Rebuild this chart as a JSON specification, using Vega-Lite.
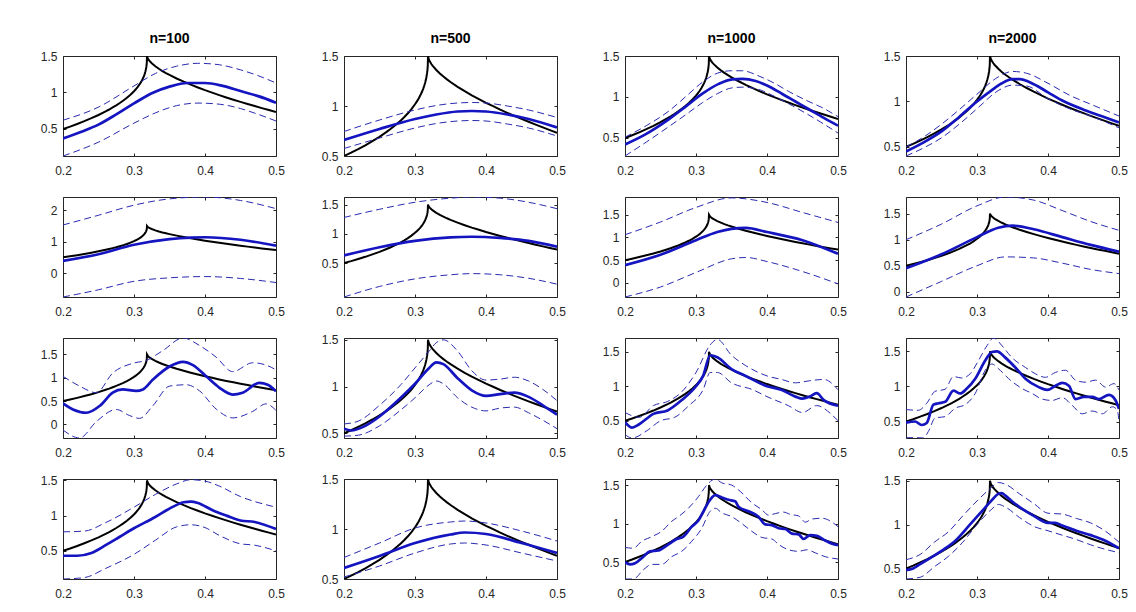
{
  "$schema": "https://vega.github.io/schema/vega-lite/v6.json",
  "padding": {"left": 40, "top": 32, "right": 5, "bottom": 5},
  "bounds": "flush",
  "columns": 4,
  "spacing": {"row": 41, "column": 68},
  "datasets": {
    "truth": [
      {"x":0.2,"y":0.5},{"x":0.21,"y":0.533},{"x":0.22,"y":0.569},{"x":0.23,"y":0.607},{"x":0.24,"y":0.648},{"x":0.25,"y":0.692},{"x":0.26,"y":0.741},{"x":0.265,"y":0.767},{"x":0.27,"y":0.795},{"x":0.275,"y":0.824},{"x":0.28,"y":0.856},{"x":0.285,"y":0.89},{"x":0.29,"y":0.927},{"x":0.295,"y":0.969},{"x":0.3,"y":1.017},{"x":0.3025,"y":1.044},{"x":0.305,"y":1.073},{"x":0.3075,"y":1.107},{"x":0.31,"y":1.145},{"x":0.3115,"y":1.172},{"x":0.313,"y":1.202},{"x":0.3145,"y":1.238},{"x":0.316,"y":1.285},{"x":0.317,"y":1.328},{"x":0.3175,"y":1.357},{"x":0.318,"y":1.403},{"x":0.3183,"y":1.5},{"x":0.3195,"y":1.466},{"x":0.321,"y":1.444},{"x":0.323,"y":1.42},{"x":0.325,"y":1.401},{"x":0.33,"y":1.36},{"x":0.335,"y":1.325},{"x":0.34,"y":1.294},{"x":0.345,"y":1.266},{"x":0.35,"y":1.24},{"x":0.36,"y":1.192},{"x":0.37,"y":1.148},{"x":0.38,"y":1.107},{"x":0.39,"y":1.069},{"x":0.4,"y":1.032},{"x":0.41,"y":0.998},{"x":0.42,"y":0.964},{"x":0.43,"y":0.932},{"x":0.44,"y":0.901},{"x":0.45,"y":0.871},{"x":0.46,"y":0.842},{"x":0.47,"y":0.814},{"x":0.48,"y":0.786},{"x":0.49,"y":0.759},{"x":0.5,"y":0.732}
    ],
    "est": [
      {"p":"11","x":0.2,"y":0.37},{"p":"11","x":0.225,"y":0.46},{"p":"11","x":0.25,"y":0.56},{"p":"11","x":0.275,"y":0.7},{"p":"11","x":0.3,"y":0.85},{"p":"11","x":0.325,"y":0.99},{"p":"11","x":0.35,"y":1.08},{"p":"11","x":0.375,"y":1.13},{"p":"11","x":0.4,"y":1.13},{"p":"11","x":0.425,"y":1.09},{"p":"11","x":0.45,"y":1.02},{"p":"11","x":0.475,"y":0.95},{"p":"11","x":0.5,"y":0.86},
      {"p":"12","x":0.2,"y":0.66},{"p":"12","x":0.25,"y":0.77},{"p":"12","x":0.3,"y":0.87},{"p":"12","x":0.33,"y":0.915},{"p":"12","x":0.36,"y":0.945},{"p":"12","x":0.38,"y":0.95},{"p":"12","x":0.4,"y":0.945},{"p":"12","x":0.43,"y":0.915},{"p":"12","x":0.46,"y":0.87},{"p":"12","x":0.5,"y":0.785},
      {"p":"13","x":0.2,"y":0.42},{"p":"13","x":0.23,"y":0.55},{"p":"13","x":0.262,"y":0.73},{"p":"13","x":0.285,"y":0.88},{"p":"13","x":0.309,"y":1.04},{"p":"13","x":0.332,"y":1.16},{"p":"13","x":0.351,"y":1.215},{"p":"13","x":0.365,"y":1.22},{"p":"13","x":0.384,"y":1.195},{"p":"13","x":0.4,"y":1.14},{"p":"13","x":0.421,"y":1.04},{"p":"13","x":0.44,"y":0.945},{"p":"13","x":0.459,"y":0.85},{"p":"13","x":0.48,"y":0.745},{"p":"13","x":0.5,"y":0.65},
      {"p":"14","x":0.2,"y":0.45},{"p":"14","x":0.225,"y":0.55},{"p":"14","x":0.25,"y":0.67},{"p":"14","x":0.275,"y":0.83},{"p":"14","x":0.3,"y":1.0},{"p":"14","x":0.32,"y":1.12},{"p":"14","x":0.335,"y":1.2},{"p":"14","x":0.35,"y":1.245},{"p":"14","x":0.36,"y":1.245},{"p":"14","x":0.38,"y":1.19},{"p":"14","x":0.4,"y":1.1},{"p":"14","x":0.42,"y":1.01},{"p":"14","x":0.45,"y":0.91},{"p":"14","x":0.475,"y":0.84},{"p":"14","x":0.5,"y":0.77},
      {"p":"21","x":0.2,"y":0.385},{"p":"21","x":0.25,"y":0.6},{"p":"21","x":0.3,"y":0.9},{"p":"21","x":0.35,"y":1.08},{"p":"21","x":0.38,"y":1.13},{"p":"21","x":0.4,"y":1.14},{"p":"21","x":0.45,"y":1.06},{"p":"21","x":0.5,"y":0.87},
      {"p":"22","x":0.2,"y":0.63},{"p":"22","x":0.25,"y":0.77},{"p":"22","x":0.3,"y":0.88},{"p":"22","x":0.35,"y":0.94},{"p":"22","x":0.38,"y":0.95},{"p":"22","x":0.42,"y":0.93},{"p":"22","x":0.46,"y":0.88},{"p":"22","x":0.5,"y":0.78},
      {"p":"23","x":0.2,"y":0.39},{"p":"23","x":0.25,"y":0.62},{"p":"23","x":0.3,"y":0.94},{"p":"23","x":0.33,"y":1.12},{"p":"23","x":0.35,"y":1.19},{"p":"23","x":0.37,"y":1.21},{"p":"23","x":0.4,"y":1.12},{"p":"23","x":0.45,"y":0.94},{"p":"23","x":0.5,"y":0.64},
      {"p":"24","x":0.2,"y":0.45},{"p":"24","x":0.25,"y":0.72},{"p":"24","x":0.3,"y":1.05},{"p":"24","x":0.33,"y":1.23},{"p":"24","x":0.35,"y":1.27},{"p":"24","x":0.38,"y":1.2},{"p":"24","x":0.42,"y":1.05},{"p":"24","x":0.46,"y":0.9},{"p":"24","x":0.5,"y":0.77},
      {"p":"31","x":0.2,"y":0.45},{"p":"31","x":0.214,"y":0.32},{"p":"31","x":0.233,"y":0.25},{"p":"31","x":0.252,"y":0.4},{"p":"31","x":0.27,"y":0.68},{"p":"31","x":0.284,"y":0.75},{"p":"31","x":0.303,"y":0.72},{"p":"31","x":0.3125,"y":0.75},{"p":"31","x":0.3266,"y":0.96},{"p":"31","x":0.35,"y":1.24},{"p":"31","x":0.369,"y":1.34},{"p":"31","x":0.383,"y":1.27},{"p":"31","x":0.4016,"y":1.03},{"p":"31","x":0.42,"y":0.79},{"p":"31","x":0.439,"y":0.64},{"p":"31","x":0.453,"y":0.68},{"p":"31","x":0.4766,"y":0.89},{"p":"31","x":0.4883,"y":0.85},{"p":"31","x":0.5,"y":0.71},
      {"p":"32","x":0.2,"y":0.55},{"p":"32","x":0.21,"y":0.53},{"p":"32","x":0.23,"y":0.58},{"p":"32","x":0.25,"y":0.68},{"p":"32","x":0.28,"y":0.88},{"p":"32","x":0.3,"y":1.03},{"p":"32","x":0.32,"y":1.2},{"p":"32","x":0.33,"y":1.26},{"p":"32","x":0.34,"y":1.24},{"p":"32","x":0.36,"y":1.09},{"p":"32","x":0.38,"y":0.96},{"p":"32","x":0.4,"y":0.9},{"p":"32","x":0.42,"y":0.92},{"p":"32","x":0.44,"y":0.935},{"p":"32","x":0.46,"y":0.89},{"p":"32","x":0.48,"y":0.8},{"p":"32","x":0.5,"y":0.7},
      {"p":"33","x":0.2,"y":0.48},{"p":"33","x":0.21,"y":0.4},{"p":"33","x":0.22,"y":0.45},{"p":"33","x":0.24,"y":0.6},{"p":"33","x":0.26,"y":0.65},{"p":"33","x":0.28,"y":0.8},{"p":"33","x":0.3,"y":1.0},{"p":"33","x":0.31,"y":1.15},{"p":"33","x":0.32,"y":1.45},{"p":"33","x":0.33,"y":1.42},{"p":"33","x":0.35,"y":1.25},{"p":"33","x":0.37,"y":1.15},{"p":"33","x":0.4,"y":1.0},{"p":"33","x":0.42,"y":0.95},{"p":"33","x":0.44,"y":0.85},{"p":"33","x":0.45,"y":0.82},{"p":"33","x":0.46,"y":0.85},{"p":"33","x":0.47,"y":0.9},{"p":"33","x":0.48,"y":0.8},{"p":"33","x":0.5,"y":0.72},
      {"p":"34","x":0.2,"y":0.485},{"p":"34","x":0.2127,"y":0.5},{"p":"34","x":0.2221,"y":0.45},{"p":"34","x":0.2292,"y":0.48},{"p":"34","x":0.2386,"y":0.74},{"p":"34","x":0.2457,"y":0.76},{"p":"34","x":0.2551,"y":0.78},{"p":"34","x":0.2669,"y":0.94},{"p":"34","x":0.2763,"y":0.9},{"p":"34","x":0.2857,"y":0.97},{"p":"34","x":0.2975,"y":1.11},{"p":"34","x":0.3116,"y":1.37},{"p":"34","x":0.3211,"y":1.49},{"p":"34","x":0.3281,"y":1.5},{"p":"34","x":0.3399,"y":1.41},{"p":"34","x":0.354,"y":1.27},{"p":"34","x":0.3682,"y":1.11},{"p":"34","x":0.387,"y":0.99},{"p":"34","x":0.3988,"y":0.95},{"p":"34","x":0.4106,"y":1.01},{"p":"34","x":0.42,"y":1.05},{"p":"34","x":0.4294,"y":1.01},{"p":"34","x":0.4388,"y":0.82},{"p":"34","x":0.4506,"y":0.85},{"p":"34","x":0.4624,"y":0.85},{"p":"34","x":0.4718,"y":0.82},{"p":"34","x":0.4859,"y":0.88},{"p":"34","x":0.4953,"y":0.8},{"p":"34","x":0.5,"y":0.68},
      {"p":"41","x":0.2,"y":0.43},{"p":"41","x":0.22,"y":0.43},{"p":"41","x":0.24,"y":0.47},{"p":"41","x":0.26,"y":0.58},{"p":"41","x":0.28,"y":0.7},{"p":"41","x":0.3,"y":0.82},{"p":"41","x":0.33,"y":0.98},{"p":"41","x":0.35,"y":1.1},{"p":"41","x":0.37,"y":1.19},{"p":"41","x":0.38,"y":1.2},{"p":"41","x":0.39,"y":1.18},{"p":"41","x":0.41,"y":1.08},{"p":"41","x":0.43,"y":1.0},{"p":"41","x":0.45,"y":0.93},{"p":"41","x":0.47,"y":0.91},{"p":"41","x":0.5,"y":0.81},
      {"p":"42","x":0.2,"y":0.61},{"p":"42","x":0.25,"y":0.73},{"p":"42","x":0.3,"y":0.86},{"p":"42","x":0.35,"y":0.945},{"p":"42","x":0.37,"y":0.965},{"p":"42","x":0.4,"y":0.95},{"p":"42","x":0.45,"y":0.86},{"p":"42","x":0.5,"y":0.76},
      {"p":"43","x":0.2,"y":0.5},{"p":"43","x":0.207,"y":0.47},{"p":"43","x":0.2141,"y":0.485},{"p":"43","x":0.2259,"y":0.57},{"p":"43","x":0.2353,"y":0.64},{"p":"43","x":0.247,"y":0.65},{"p":"43","x":0.2611,"y":0.73},{"p":"43","x":0.2729,"y":0.8},{"p":"43","x":0.2823,"y":0.83},{"p":"43","x":0.294,"y":0.96},{"p":"43","x":0.3034,"y":1.04},{"p":"43","x":0.3128,"y":1.2},{"p":"43","x":0.3199,"y":1.31},{"p":"43","x":0.327,"y":1.37},{"p":"43","x":0.3363,"y":1.34},{"p":"43","x":0.3457,"y":1.31},{"p":"43","x":0.3551,"y":1.29},{"p":"43","x":0.3599,"y":1.22},{"p":"43","x":0.374,"y":1.16},{"p":"43","x":0.3881,"y":1.09},{"p":"43","x":0.3975,"y":0.99},{"p":"43","x":0.4069,"y":0.98},{"p":"43","x":0.4163,"y":0.94},{"p":"43","x":0.4257,"y":0.93},{"p":"43","x":0.4351,"y":0.87},{"p":"43","x":0.4445,"y":0.86},{"p":"43","x":0.4515,"y":0.8},{"p":"43","x":0.4609,"y":0.85},{"p":"43","x":0.4703,"y":0.84},{"p":"43","x":0.4821,"y":0.78},{"p":"43","x":0.4915,"y":0.74},{"p":"43","x":0.5,"y":0.72},
      {"p":"44","x":0.2,"y":0.48},{"p":"44","x":0.21,"y":0.5},{"p":"44","x":0.22,"y":0.55},{"p":"44","x":0.25,"y":0.7},{"p":"44","x":0.27,"y":0.82},{"p":"44","x":0.29,"y":1.0},{"p":"44","x":0.31,"y":1.18},{"p":"44","x":0.32,"y":1.27},{"p":"44","x":0.33,"y":1.35},{"p":"44","x":0.335,"y":1.36},{"p":"44","x":0.34,"y":1.33},{"p":"44","x":0.35,"y":1.26},{"p":"44","x":0.36,"y":1.2},{"p":"44","x":0.38,"y":1.1},{"p":"44","x":0.4,"y":1.02},{"p":"44","x":0.41,"y":1.02},{"p":"44","x":0.42,"y":0.99},{"p":"44","x":0.44,"y":0.93},{"p":"44","x":0.46,"y":0.88},{"p":"44","x":0.48,"y":0.82},{"p":"44","x":0.5,"y":0.73}
    ],
    "band": [
      {"p":"11","b":"hi","x":0.2,"y":0.62},{"p":"11","b":"hi","x":0.25,"y":0.8},{"p":"11","b":"hi","x":0.3,"y":1.09},{"p":"11","b":"hi","x":0.33,"y":1.26},{"p":"11","b":"hi","x":0.36,"y":1.36},{"p":"11","b":"hi","x":0.39,"y":1.4},{"p":"11","b":"hi","x":0.42,"y":1.38},{"p":"11","b":"hi","x":0.45,"y":1.31},{"p":"11","b":"hi","x":0.475,"y":1.23},{"p":"11","b":"hi","x":0.5,"y":1.13},
      {"p":"11","b":"lo","x":0.2,"y":0.13},{"p":"11","b":"lo","x":0.25,"y":0.32},{"p":"11","b":"lo","x":0.3,"y":0.58},{"p":"11","b":"lo","x":0.33,"y":0.72},{"p":"11","b":"lo","x":0.36,"y":0.82},{"p":"11","b":"lo","x":0.39,"y":0.855},{"p":"11","b":"lo","x":0.42,"y":0.84},{"p":"11","b":"lo","x":0.45,"y":0.78},{"p":"11","b":"lo","x":0.475,"y":0.7},{"p":"11","b":"lo","x":0.5,"y":0.61},
      {"p":"12","b":"hi","x":0.2,"y":0.745},{"p":"12","b":"hi","x":0.25,"y":0.86},{"p":"12","b":"hi","x":0.3,"y":0.96},{"p":"12","b":"hi","x":0.33,"y":1.005},{"p":"12","b":"hi","x":0.36,"y":1.03},{"p":"12","b":"hi","x":0.38,"y":1.035},{"p":"12","b":"hi","x":0.4,"y":1.03},{"p":"12","b":"hi","x":0.43,"y":1.0},{"p":"12","b":"hi","x":0.46,"y":0.96},{"p":"12","b":"hi","x":0.5,"y":0.885},
      {"p":"12","b":"lo","x":0.2,"y":0.575},{"p":"12","b":"lo","x":0.25,"y":0.68},{"p":"12","b":"lo","x":0.3,"y":0.78},{"p":"12","b":"lo","x":0.33,"y":0.825},{"p":"12","b":"lo","x":0.36,"y":0.85},{"p":"12","b":"lo","x":0.38,"y":0.855},{"p":"12","b":"lo","x":0.4,"y":0.85},{"p":"12","b":"lo","x":0.43,"y":0.82},{"p":"12","b":"lo","x":0.46,"y":0.78},{"p":"12","b":"lo","x":0.5,"y":0.7},
      {"p":"13","b":"hi","x":0.2,"y":0.51},{"p":"13","b":"hi","x":0.23,"y":0.65},{"p":"13","b":"hi","x":0.262,"y":0.83},{"p":"13","b":"hi","x":0.285,"y":1.0},{"p":"13","b":"hi","x":0.309,"y":1.18},{"p":"13","b":"hi","x":0.33,"y":1.29},{"p":"13","b":"hi","x":0.35,"y":1.32},{"p":"13","b":"hi","x":0.365,"y":1.32},{"p":"13","b":"hi","x":0.39,"y":1.25},{"p":"13","b":"hi","x":0.41,"y":1.17},{"p":"13","b":"hi","x":0.43,"y":1.07},{"p":"13","b":"hi","x":0.455,"y":0.96},{"p":"13","b":"hi","x":0.48,"y":0.86},{"p":"13","b":"hi","x":0.5,"y":0.76},
      {"p":"13","b":"lo","x":0.2,"y":0.28},{"p":"13","b":"lo","x":0.23,"y":0.45},{"p":"13","b":"lo","x":0.262,"y":0.64},{"p":"13","b":"lo","x":0.285,"y":0.78},{"p":"13","b":"lo","x":0.309,"y":0.93},{"p":"13","b":"lo","x":0.33,"y":1.04},{"p":"13","b":"lo","x":0.35,"y":1.11},{"p":"13","b":"lo","x":0.365,"y":1.12},{"p":"13","b":"lo","x":0.385,"y":1.1},{"p":"13","b":"lo","x":0.41,"y":1.01},{"p":"13","b":"lo","x":0.43,"y":0.92},{"p":"13","b":"lo","x":0.455,"y":0.8},{"p":"13","b":"lo","x":0.48,"y":0.67},{"p":"13","b":"lo","x":0.5,"y":0.56},
      {"p":"14","b":"hi","x":0.2,"y":0.5},{"p":"14","b":"hi","x":0.225,"y":0.61},{"p":"14","b":"hi","x":0.25,"y":0.75},{"p":"14","b":"hi","x":0.275,"y":0.91},{"p":"14","b":"hi","x":0.3,"y":1.08},{"p":"14","b":"hi","x":0.33,"y":1.27},{"p":"14","b":"hi","x":0.35,"y":1.33},{"p":"14","b":"hi","x":0.37,"y":1.31},{"p":"14","b":"hi","x":0.4,"y":1.2},{"p":"14","b":"hi","x":0.43,"y":1.07},{"p":"14","b":"hi","x":0.46,"y":0.97},{"p":"14","b":"hi","x":0.5,"y":0.84},
      {"p":"14","b":"lo","x":0.2,"y":0.4},{"p":"14","b":"lo","x":0.225,"y":0.49},{"p":"14","b":"lo","x":0.25,"y":0.6},{"p":"14","b":"lo","x":0.275,"y":0.75},{"p":"14","b":"lo","x":0.3,"y":0.92},{"p":"14","b":"lo","x":0.33,"y":1.12},{"p":"14","b":"lo","x":0.35,"y":1.18},{"p":"14","b":"lo","x":0.37,"y":1.17},{"p":"14","b":"lo","x":0.4,"y":1.03},{"p":"14","b":"lo","x":0.43,"y":0.92},{"p":"14","b":"lo","x":0.46,"y":0.84},{"p":"14","b":"lo","x":0.5,"y":0.71},
      {"p":"21","b":"hi","x":0.2,"y":1.53},{"p":"21","b":"hi","x":0.25,"y":1.84},{"p":"21","b":"hi","x":0.3,"y":2.16},{"p":"21","b":"hi","x":0.35,"y":2.36},{"p":"21","b":"hi","x":0.4,"y":2.42},{"p":"21","b":"hi","x":0.45,"y":2.31},{"p":"21","b":"hi","x":0.5,"y":2.05},
      {"p":"21","b":"lo","x":0.2,"y":-0.76},{"p":"21","b":"lo","x":0.25,"y":-0.53},{"p":"21","b":"lo","x":0.3,"y":-0.26},{"p":"21","b":"lo","x":0.35,"y":-0.15},{"p":"21","b":"lo","x":0.4,"y":-0.11},{"p":"21","b":"lo","x":0.45,"y":-0.17},{"p":"21","b":"lo","x":0.5,"y":-0.3},
      {"p":"22","b":"hi","x":0.2,"y":1.28},{"p":"22","b":"hi","x":0.25,"y":1.42},{"p":"22","b":"hi","x":0.3,"y":1.54},{"p":"22","b":"hi","x":0.35,"y":1.61},{"p":"22","b":"hi","x":0.38,"y":1.63},{"p":"22","b":"hi","x":0.42,"y":1.61},{"p":"22","b":"hi","x":0.46,"y":1.54},{"p":"22","b":"hi","x":0.5,"y":1.43},
      {"p":"22","b":"lo","x":0.2,"y":-0.08},{"p":"22","b":"lo","x":0.25,"y":0.1},{"p":"22","b":"lo","x":0.3,"y":0.23},{"p":"22","b":"lo","x":0.35,"y":0.3},{"p":"22","b":"lo","x":0.38,"y":0.32},{"p":"22","b":"lo","x":0.42,"y":0.3},{"p":"22","b":"lo","x":0.46,"y":0.24},{"p":"22","b":"lo","x":0.5,"y":0.14},
      {"p":"23","b":"hi","x":0.2,"y":1.06},{"p":"23","b":"hi","x":0.25,"y":1.34},{"p":"23","b":"hi","x":0.3,"y":1.66},{"p":"23","b":"hi","x":0.35,"y":1.87},{"p":"23","b":"hi","x":0.4,"y":1.77},{"p":"23","b":"hi","x":0.45,"y":1.55},{"p":"23","b":"hi","x":0.5,"y":1.33},
      {"p":"23","b":"lo","x":0.2,"y":-0.31},{"p":"23","b":"lo","x":0.25,"y":-0.09},{"p":"23","b":"lo","x":0.3,"y":0.23},{"p":"23","b":"lo","x":0.35,"y":0.53},{"p":"23","b":"lo","x":0.37,"y":0.56},{"p":"23","b":"lo","x":0.4,"y":0.47},{"p":"23","b":"lo","x":0.45,"y":0.25},{"p":"23","b":"lo","x":0.5,"y":-0.02},
      {"p":"24","b":"hi","x":0.2,"y":1.0},{"p":"24","b":"hi","x":0.25,"y":1.3},{"p":"24","b":"hi","x":0.3,"y":1.65},{"p":"24","b":"hi","x":0.34,"y":1.82},{"p":"24","b":"hi","x":0.38,"y":1.76},{"p":"24","b":"hi","x":0.42,"y":1.56},{"p":"24","b":"hi","x":0.46,"y":1.35},{"p":"24","b":"hi","x":0.5,"y":1.18},
      {"p":"24","b":"lo","x":0.2,"y":-0.1},{"p":"24","b":"lo","x":0.25,"y":0.2},{"p":"24","b":"lo","x":0.3,"y":0.5},{"p":"24","b":"lo","x":0.34,"y":0.67},{"p":"24","b":"lo","x":0.38,"y":0.65},{"p":"24","b":"lo","x":0.42,"y":0.55},{"p":"24","b":"lo","x":0.46,"y":0.43},{"p":"24","b":"lo","x":0.5,"y":0.35},
      {"p":"31","b":"hi","x":0.2,"y":1.03},{"p":"31","b":"hi","x":0.2234,"y":0.82},{"p":"31","b":"hi","x":0.2469,"y":0.68},{"p":"31","b":"hi","x":0.27,"y":1.1},{"p":"31","b":"hi","x":0.2985,"y":1.31},{"p":"31","b":"hi","x":0.3172,"y":1.37},{"p":"31","b":"hi","x":0.3406,"y":1.58},{"p":"31","b":"hi","x":0.369,"y":1.85},{"p":"31","b":"hi","x":0.3922,"y":1.69},{"p":"31","b":"hi","x":0.4157,"y":1.44},{"p":"31","b":"hi","x":0.439,"y":1.13},{"p":"31","b":"hi","x":0.4672,"y":1.32},{"p":"31","b":"hi","x":0.486,"y":1.27},{"p":"31","b":"hi","x":0.5,"y":1.17},
      {"p":"31","b":"lo","x":0.2,"y":-0.12},{"p":"31","b":"lo","x":0.2234,"y":-0.29},{"p":"31","b":"lo","x":0.2469,"y":0.06},{"p":"31","b":"lo","x":0.275,"y":0.32},{"p":"31","b":"lo","x":0.2938,"y":0.19},{"p":"31","b":"lo","x":0.3078,"y":0.13},{"p":"31","b":"lo","x":0.3266,"y":0.4},{"p":"31","b":"lo","x":0.35,"y":0.82},{"p":"31","b":"lo","x":0.3735,"y":0.85},{"p":"31","b":"lo","x":0.3922,"y":0.72},{"p":"31","b":"lo","x":0.4157,"y":0.33},{"p":"31","b":"lo","x":0.439,"y":0.14},{"p":"31","b":"lo","x":0.4672,"y":0.28},{"p":"31","b":"lo","x":0.486,"y":0.44},{"p":"31","b":"lo","x":0.5,"y":0.3},
      {"p":"32","b":"hi","x":0.2,"y":0.6},{"p":"32","b":"hi","x":0.22,"y":0.63},{"p":"32","b":"hi","x":0.25,"y":0.8},{"p":"32","b":"hi","x":0.28,"y":1.02},{"p":"32","b":"hi","x":0.3,"y":1.2},{"p":"32","b":"hi","x":0.32,"y":1.38},{"p":"32","b":"hi","x":0.33,"y":1.47},{"p":"32","b":"hi","x":0.34,"y":1.5},{"p":"32","b":"hi","x":0.36,"y":1.38},{"p":"32","b":"hi","x":0.38,"y":1.17},{"p":"32","b":"hi","x":0.4,"y":1.07},{"p":"32","b":"hi","x":0.42,"y":1.08},{"p":"32","b":"hi","x":0.44,"y":1.1},{"p":"32","b":"hi","x":0.46,"y":1.06},{"p":"32","b":"hi","x":0.48,"y":0.97},{"p":"32","b":"hi","x":0.5,"y":0.85},
      {"p":"32","b":"lo","x":0.2,"y":0.47},{"p":"32","b":"lo","x":0.22,"y":0.48},{"p":"32","b":"lo","x":0.25,"y":0.58},{"p":"32","b":"lo","x":0.28,"y":0.75},{"p":"32","b":"lo","x":0.3,"y":0.88},{"p":"32","b":"lo","x":0.32,"y":1.02},{"p":"32","b":"lo","x":0.33,"y":1.06},{"p":"32","b":"lo","x":0.34,"y":1.03},{"p":"32","b":"lo","x":0.36,"y":0.88},{"p":"32","b":"lo","x":0.38,"y":0.78},{"p":"32","b":"lo","x":0.4,"y":0.74},{"p":"32","b":"lo","x":0.42,"y":0.77},{"p":"32","b":"lo","x":0.44,"y":0.78},{"p":"32","b":"lo","x":0.46,"y":0.72},{"p":"32","b":"lo","x":0.48,"y":0.64},{"p":"32","b":"lo","x":0.5,"y":0.55},
      {"p":"33","b":"hi","x":0.2,"y":0.62},{"p":"33","b":"hi","x":0.22,"y":0.55},{"p":"33","b":"hi","x":0.24,"y":0.72},{"p":"33","b":"hi","x":0.26,"y":0.78},{"p":"33","b":"hi","x":0.28,"y":0.92},{"p":"33","b":"hi","x":0.3,"y":1.2},{"p":"33","b":"hi","x":0.32,"y":1.6},{"p":"33","b":"hi","x":0.33,"y":1.68},{"p":"33","b":"hi","x":0.35,"y":1.45},{"p":"33","b":"hi","x":0.37,"y":1.3},{"p":"33","b":"hi","x":0.4,"y":1.15},{"p":"33","b":"hi","x":0.42,"y":1.1},{"p":"33","b":"hi","x":0.44,"y":1.05},{"p":"33","b":"hi","x":0.46,"y":1.08},{"p":"33","b":"hi","x":0.48,"y":1.1},{"p":"33","b":"hi","x":0.5,"y":0.95},
      {"p":"33","b":"lo","x":0.2,"y":0.3},{"p":"33","b":"lo","x":0.21,"y":0.25},{"p":"33","b":"lo","x":0.23,"y":0.35},{"p":"33","b":"lo","x":0.25,"y":0.5},{"p":"33","b":"lo","x":0.27,"y":0.55},{"p":"33","b":"lo","x":0.29,"y":0.72},{"p":"33","b":"lo","x":0.31,"y":0.95},{"p":"33","b":"lo","x":0.32,"y":1.2},{"p":"33","b":"lo","x":0.33,"y":1.2},{"p":"33","b":"lo","x":0.35,"y":1.05},{"p":"33","b":"lo","x":0.38,"y":0.95},{"p":"33","b":"lo","x":0.4,"y":0.85},{"p":"33","b":"lo","x":0.43,"y":0.72},{"p":"33","b":"lo","x":0.45,"y":0.62},{"p":"33","b":"lo","x":0.47,"y":0.72},{"p":"33","b":"lo","x":0.49,"y":0.6},{"p":"33","b":"lo","x":0.5,"y":0.5},
      {"p":"34","b":"hi","x":0.2,"y":0.67},{"p":"34","b":"hi","x":0.2174,"y":0.66},{"p":"34","b":"hi","x":0.2292,"y":0.76},{"p":"34","b":"hi","x":0.241,"y":0.93},{"p":"34","b":"hi","x":0.2551,"y":0.96},{"p":"34","b":"hi","x":0.2669,"y":1.14},{"p":"34","b":"hi","x":0.2787,"y":1.12},{"p":"34","b":"hi","x":0.2904,"y":1.18},{"p":"34","b":"hi","x":0.3022,"y":1.37},{"p":"34","b":"hi","x":0.314,"y":1.58},{"p":"34","b":"hi","x":0.3234,"y":1.69},{"p":"34","b":"hi","x":0.3352,"y":1.58},{"p":"34","b":"hi","x":0.3493,"y":1.41},{"p":"34","b":"hi","x":0.3682,"y":1.27},{"p":"34","b":"hi","x":0.3823,"y":1.18},{"p":"34","b":"hi","x":0.3964,"y":1.13},{"p":"34","b":"hi","x":0.4106,"y":1.2},{"p":"34","b":"hi","x":0.4247,"y":1.23},{"p":"34","b":"hi","x":0.4388,"y":1.09},{"p":"34","b":"hi","x":0.4529,"y":1.06},{"p":"34","b":"hi","x":0.4671,"y":1.09},{"p":"34","b":"hi","x":0.4812,"y":0.99},{"p":"34","b":"hi","x":0.493,"y":1.04},{"p":"34","b":"hi","x":0.5,"y":0.95},
      {"p":"34","b":"lo","x":0.2,"y":0.27},{"p":"34","b":"lo","x":0.2127,"y":0.27},{"p":"34","b":"lo","x":0.2245,"y":0.265},{"p":"34","b":"lo","x":0.2316,"y":0.36},{"p":"34","b":"lo","x":0.241,"y":0.55},{"p":"34","b":"lo","x":0.2551,"y":0.57},{"p":"34","b":"lo","x":0.2692,"y":0.69},{"p":"34","b":"lo","x":0.2834,"y":0.74},{"p":"34","b":"lo","x":0.2975,"y":0.9},{"p":"34","b":"lo","x":0.3116,"y":1.23},{"p":"34","b":"lo","x":0.3211,"y":1.32},{"p":"34","b":"lo","x":0.3305,"y":1.25},{"p":"34","b":"lo","x":0.3446,"y":1.11},{"p":"34","b":"lo","x":0.3634,"y":0.97},{"p":"34","b":"lo","x":0.3776,"y":0.9},{"p":"34","b":"lo","x":0.3917,"y":0.82},{"p":"34","b":"lo","x":0.4058,"y":0.8},{"p":"34","b":"lo","x":0.42,"y":0.84},{"p":"34","b":"lo","x":0.4341,"y":0.73},{"p":"34","b":"lo","x":0.4482,"y":0.61},{"p":"34","b":"lo","x":0.4624,"y":0.65},{"p":"34","b":"lo","x":0.4765,"y":0.61},{"p":"34","b":"lo","x":0.4906,"y":0.71},{"p":"34","b":"lo","x":0.4977,"y":0.66},{"p":"34","b":"lo","x":0.5,"y":0.5},
      {"p":"41","b":"hi","x":0.2,"y":0.77},{"p":"41","b":"hi","x":0.23,"y":0.78},{"p":"41","b":"hi","x":0.26,"y":0.9},{"p":"41","b":"hi","x":0.3,"y":1.12},{"p":"41","b":"hi","x":0.33,"y":1.3},{"p":"41","b":"hi","x":0.36,"y":1.45},{"p":"41","b":"hi","x":0.38,"y":1.51},{"p":"41","b":"hi","x":0.4,"y":1.49},{"p":"41","b":"hi","x":0.42,"y":1.42},{"p":"41","b":"hi","x":0.45,"y":1.27},{"p":"41","b":"hi","x":0.47,"y":1.2},{"p":"41","b":"hi","x":0.5,"y":1.12},
      {"p":"41","b":"lo","x":0.2,"y":0.1},{"p":"41","b":"lo","x":0.23,"y":0.12},{"p":"41","b":"lo","x":0.26,"y":0.25},{"p":"41","b":"lo","x":0.3,"y":0.45},{"p":"41","b":"lo","x":0.33,"y":0.65},{"p":"41","b":"lo","x":0.36,"y":0.84},{"p":"41","b":"lo","x":0.38,"y":0.87},{"p":"41","b":"lo","x":0.4,"y":0.83},{"p":"41","b":"lo","x":0.42,"y":0.72},{"p":"41","b":"lo","x":0.45,"y":0.6},{"p":"41","b":"lo","x":0.47,"y":0.58},{"p":"41","b":"lo","x":0.5,"y":0.5},
      {"p":"42","b":"hi","x":0.2,"y":0.715},{"p":"42","b":"hi","x":0.25,"y":0.86},{"p":"42","b":"hi","x":0.3,"y":1.01},{"p":"42","b":"hi","x":0.35,"y":1.07},{"p":"42","b":"hi","x":0.37,"y":1.08},{"p":"42","b":"hi","x":0.4,"y":1.06},{"p":"42","b":"hi","x":0.45,"y":0.98},{"p":"42","b":"hi","x":0.5,"y":0.88},
      {"p":"42","b":"lo","x":0.2,"y":0.52},{"p":"42","b":"lo","x":0.25,"y":0.63},{"p":"42","b":"lo","x":0.3,"y":0.76},{"p":"42","b":"lo","x":0.35,"y":0.85},{"p":"42","b":"lo","x":0.37,"y":0.86},{"p":"42","b":"lo","x":0.4,"y":0.84},{"p":"42","b":"lo","x":0.45,"y":0.76},{"p":"42","b":"lo","x":0.5,"y":0.68},
      {"p":"43","b":"hi","x":0.2,"y":0.69},{"p":"43","b":"hi","x":0.2118,"y":0.68},{"p":"43","b":"hi","x":0.2235,"y":0.77},{"p":"43","b":"hi","x":0.2376,"y":0.83},{"p":"43","b":"hi","x":0.2517,"y":0.9},{"p":"43","b":"hi","x":0.2658,"y":1.03},{"p":"43","b":"hi","x":0.2752,"y":1.09},{"p":"43","b":"hi","x":0.2893,"y":1.2},{"p":"43","b":"hi","x":0.3034,"y":1.35},{"p":"43","b":"hi","x":0.3152,"y":1.5},{"p":"43","b":"hi","x":0.327,"y":1.58},{"p":"43","b":"hi","x":0.3363,"y":1.53},{"p":"43","b":"hi","x":0.3504,"y":1.5},{"p":"43","b":"hi","x":0.3622,"y":1.42},{"p":"43","b":"hi","x":0.3787,"y":1.27},{"p":"43","b":"hi","x":0.3928,"y":1.18},{"p":"43","b":"hi","x":0.4022,"y":1.11},{"p":"43","b":"hi","x":0.4116,"y":1.13},{"p":"43","b":"hi","x":0.4233,"y":1.15},{"p":"43","b":"hi","x":0.4327,"y":1.12},{"p":"43","b":"hi","x":0.4445,"y":1.1},{"p":"43","b":"hi","x":0.4539,"y":1.02},{"p":"43","b":"hi","x":0.4633,"y":1.06},{"p":"43","b":"hi","x":0.4774,"y":1.07},{"p":"43","b":"hi","x":0.4915,"y":1.02},{"p":"43","b":"hi","x":0.5,"y":0.96},
      {"p":"43","b":"lo","x":0.2,"y":0.28},{"p":"43","b":"lo","x":0.2118,"y":0.28},{"p":"43","b":"lo","x":0.2259,"y":0.4},{"p":"43","b":"lo","x":0.2376,"y":0.47},{"p":"43","b":"lo","x":0.2517,"y":0.47},{"p":"43","b":"lo","x":0.2658,"y":0.57},{"p":"43","b":"lo","x":0.2799,"y":0.64},{"p":"43","b":"lo","x":0.294,"y":0.77},{"p":"43","b":"lo","x":0.3081,"y":0.94},{"p":"43","b":"lo","x":0.3199,"y":1.16},{"p":"43","b":"lo","x":0.327,"y":1.2},{"p":"43","b":"lo","x":0.3363,"y":1.14},{"p":"43","b":"lo","x":0.3504,"y":1.09},{"p":"43","b":"lo","x":0.3646,"y":1.0},{"p":"43","b":"lo","x":0.3787,"y":0.9},{"p":"43","b":"lo","x":0.3928,"y":0.82},{"p":"43","b":"lo","x":0.4069,"y":0.8},{"p":"43","b":"lo","x":0.4163,"y":0.73},{"p":"43","b":"lo","x":0.4304,"y":0.66},{"p":"43","b":"lo","x":0.4445,"y":0.64},{"p":"43","b":"lo","x":0.4562,"y":0.66},{"p":"43","b":"lo","x":0.468,"y":0.62},{"p":"43","b":"lo","x":0.4821,"y":0.57},{"p":"43","b":"lo","x":0.5,"y":0.54},
      {"p":"44","b":"hi","x":0.2,"y":0.6},{"p":"44","b":"hi","x":0.22,"y":0.66},{"p":"44","b":"hi","x":0.24,"y":0.8},{"p":"44","b":"hi","x":0.26,"y":0.92},{"p":"44","b":"hi","x":0.28,"y":1.1},{"p":"44","b":"hi","x":0.3,"y":1.27},{"p":"44","b":"hi","x":0.32,"y":1.42},{"p":"44","b":"hi","x":0.33,"y":1.48},{"p":"44","b":"hi","x":0.34,"y":1.46},{"p":"44","b":"hi","x":0.36,"y":1.35},{"p":"44","b":"hi","x":0.38,"y":1.24},{"p":"44","b":"hi","x":0.4,"y":1.13},{"p":"44","b":"hi","x":0.42,"y":1.12},{"p":"44","b":"hi","x":0.44,"y":1.07},{"p":"44","b":"hi","x":0.46,"y":1.02},{"p":"44","b":"hi","x":0.48,"y":0.93},{"p":"44","b":"hi","x":0.5,"y":0.8},
      {"p":"44","b":"lo","x":0.2,"y":0.38},{"p":"44","b":"lo","x":0.22,"y":0.4},{"p":"44","b":"lo","x":0.24,"y":0.52},{"p":"44","b":"lo","x":0.26,"y":0.64},{"p":"44","b":"lo","x":0.28,"y":0.8},{"p":"44","b":"lo","x":0.3,"y":1.0},{"p":"44","b":"lo","x":0.32,"y":1.17},{"p":"44","b":"lo","x":0.33,"y":1.23},{"p":"44","b":"lo","x":0.34,"y":1.2},{"p":"44","b":"lo","x":0.36,"y":1.08},{"p":"44","b":"lo","x":0.38,"y":0.98},{"p":"44","b":"lo","x":0.4,"y":0.93},{"p":"44","b":"lo","x":0.42,"y":0.88},{"p":"44","b":"lo","x":0.44,"y":0.83},{"p":"44","b":"lo","x":0.46,"y":0.77},{"p":"44","b":"lo","x":0.48,"y":0.72},{"p":"44","b":"lo","x":0.5,"y":0.68}
    ]
  },
  "concat": [
    {"title": "n=100", "width": 213, "height": 100, "layer": [
      {"data": {"name": "truth"}, "mark": {"type": "line", "color": "#000000", "strokeWidth": 2, "clip": true},
       "encoding": {"x": {"field": "x", "type": "quantitative", "scale": {"domain": [0.2, 0.5], "nice": false, "zero": false}, "axis": {"orient": "bottom", "values": [0.2, 0.3, 0.4, 0.5], "format": "~g", "title": null}},
                    "y": {"field": "y", "type": "quantitative", "scale": {"domain": [0.13, 1.5], "nice": false, "zero": false}, "axis": {"orient": "left", "values": [0.5, 1, 1.5], "format": "~g", "title": null}}}},
      {"data": {"name": "est"}, "transform": [{"filter": "datum.p == '11'"}], "mark": {"type": "line", "color": "#1414c0", "strokeWidth": 2.7, "interpolate": "monotone", "clip": true},
       "encoding": {"x": {"field": "x", "type": "quantitative", "scale": {"domain": [0.2, 0.5], "nice": false, "zero": false}, "axis": {"orient": "top", "values": [0.2, 0.3, 0.4, 0.5], "labels": false, "title": null}},
                    "y": {"field": "y", "type": "quantitative", "scale": {"domain": [0.13, 1.5], "nice": false, "zero": false}, "axis": {"orient": "right", "values": [0.5, 1, 1.5], "labels": false, "title": null}}}},
      {"data": {"name": "band"}, "transform": [{"filter": "datum.p == '11'"}], "mark": {"type": "line", "color": "#2a2ab0", "strokeWidth": 1, "strokeDash": [7, 4], "interpolate": "monotone", "clip": true},
       "encoding": {"x": {"field": "x", "type": "quantitative", "axis": null}, "y": {"field": "y", "type": "quantitative", "axis": null}, "detail": {"field": "b"}}}
    ], "resolve": {"axis": {"x": "independent", "y": "independent"}}},
    {"title": "n=500", "width": 213, "height": 100, "layer": [
      {"data": {"name": "truth"}, "mark": {"type": "line", "color": "#000000", "strokeWidth": 2, "clip": true},
       "encoding": {"x": {"field": "x", "type": "quantitative", "scale": {"domain": [0.2, 0.5], "nice": false, "zero": false}, "axis": {"orient": "bottom", "values": [0.2, 0.3, 0.4, 0.5], "format": "~g", "title": null}},
                    "y": {"field": "y", "type": "quantitative", "scale": {"domain": [0.5, 1.5], "nice": false, "zero": false}, "axis": {"orient": "left", "values": [0.5, 1, 1.5], "format": "~g", "title": null}}}},
      {"data": {"name": "est"}, "transform": [{"filter": "datum.p == '12'"}], "mark": {"type": "line", "color": "#1414c0", "strokeWidth": 2.7, "interpolate": "monotone", "clip": true},
       "encoding": {"x": {"field": "x", "type": "quantitative", "scale": {"domain": [0.2, 0.5], "nice": false, "zero": false}, "axis": {"orient": "top", "values": [0.2, 0.3, 0.4, 0.5], "labels": false, "title": null}},
                    "y": {"field": "y", "type": "quantitative", "scale": {"domain": [0.5, 1.5], "nice": false, "zero": false}, "axis": {"orient": "right", "values": [0.5, 1, 1.5], "labels": false, "title": null}}}},
      {"data": {"name": "band"}, "transform": [{"filter": "datum.p == '12'"}], "mark": {"type": "line", "color": "#2a2ab0", "strokeWidth": 1, "strokeDash": [7, 4], "interpolate": "monotone", "clip": true},
       "encoding": {"x": {"field": "x", "type": "quantitative", "axis": null}, "y": {"field": "y", "type": "quantitative", "axis": null}, "detail": {"field": "b"}}}
    ], "resolve": {"axis": {"x": "independent", "y": "independent"}}},
    {"title": "n=1000", "width": 213, "height": 100, "layer": [
      {"data": {"name": "truth"}, "mark": {"type": "line", "color": "#000000", "strokeWidth": 2, "clip": true},
       "encoding": {"x": {"field": "x", "type": "quantitative", "scale": {"domain": [0.2, 0.5], "nice": false, "zero": false}, "axis": {"orient": "bottom", "values": [0.2, 0.3, 0.4, 0.5], "format": "~g", "title": null}},
                    "y": {"field": "y", "type": "quantitative", "scale": {"domain": [0.28, 1.5], "nice": false, "zero": false}, "axis": {"orient": "left", "values": [0.5, 1, 1.5], "format": "~g", "title": null}}}},
      {"data": {"name": "est"}, "transform": [{"filter": "datum.p == '13'"}], "mark": {"type": "line", "color": "#1414c0", "strokeWidth": 2.7, "interpolate": "monotone", "clip": true},
       "encoding": {"x": {"field": "x", "type": "quantitative", "scale": {"domain": [0.2, 0.5], "nice": false, "zero": false}, "axis": {"orient": "top", "values": [0.2, 0.3, 0.4, 0.5], "labels": false, "title": null}},
                    "y": {"field": "y", "type": "quantitative", "scale": {"domain": [0.28, 1.5], "nice": false, "zero": false}, "axis": {"orient": "right", "values": [0.5, 1, 1.5], "labels": false, "title": null}}}},
      {"data": {"name": "band"}, "transform": [{"filter": "datum.p == '13'"}], "mark": {"type": "line", "color": "#2a2ab0", "strokeWidth": 1, "strokeDash": [7, 4], "interpolate": "monotone", "clip": true},
       "encoding": {"x": {"field": "x", "type": "quantitative", "axis": null}, "y": {"field": "y", "type": "quantitative", "axis": null}, "detail": {"field": "b"}}}
    ], "resolve": {"axis": {"x": "independent", "y": "independent"}}},
    {"title": "n=2000", "width": 213, "height": 100, "layer": [
      {"data": {"name": "truth"}, "mark": {"type": "line", "color": "#000000", "strokeWidth": 2, "clip": true},
       "encoding": {"x": {"field": "x", "type": "quantitative", "scale": {"domain": [0.2, 0.5], "nice": false, "zero": false}, "axis": {"orient": "bottom", "values": [0.2, 0.3, 0.4, 0.5], "format": "~g", "title": null}},
                    "y": {"field": "y", "type": "quantitative", "scale": {"domain": [0.4, 1.5], "nice": false, "zero": false}, "axis": {"orient": "left", "values": [0.5, 1, 1.5], "format": "~g", "title": null}}}},
      {"data": {"name": "est"}, "transform": [{"filter": "datum.p == '14'"}], "mark": {"type": "line", "color": "#1414c0", "strokeWidth": 2.7, "interpolate": "monotone", "clip": true},
       "encoding": {"x": {"field": "x", "type": "quantitative", "scale": {"domain": [0.2, 0.5], "nice": false, "zero": false}, "axis": {"orient": "top", "values": [0.2, 0.3, 0.4, 0.5], "labels": false, "title": null}},
                    "y": {"field": "y", "type": "quantitative", "scale": {"domain": [0.4, 1.5], "nice": false, "zero": false}, "axis": {"orient": "right", "values": [0.5, 1, 1.5], "labels": false, "title": null}}}},
      {"data": {"name": "band"}, "transform": [{"filter": "datum.p == '14'"}], "mark": {"type": "line", "color": "#2a2ab0", "strokeWidth": 1, "strokeDash": [7, 4], "interpolate": "monotone", "clip": true},
       "encoding": {"x": {"field": "x", "type": "quantitative", "axis": null}, "y": {"field": "y", "type": "quantitative", "axis": null}, "detail": {"field": "b"}}}
    ], "resolve": {"axis": {"x": "independent", "y": "independent"}}},
    {"width": 213, "height": 100, "layer": [
      {"data": {"name": "truth"}, "mark": {"type": "line", "color": "#000000", "strokeWidth": 2, "clip": true},
       "encoding": {"x": {"field": "x", "type": "quantitative", "scale": {"domain": [0.2, 0.5], "nice": false, "zero": false}, "axis": {"orient": "bottom", "values": [0.2, 0.3, 0.4, 0.5], "format": "~g", "title": null}},
                    "y": {"field": "y", "type": "quantitative", "scale": {"domain": [-0.76, 2.42], "nice": false, "zero": false}, "axis": {"orient": "left", "values": [0, 1, 2], "format": "~g", "title": null}}}},
      {"data": {"name": "est"}, "transform": [{"filter": "datum.p == '21'"}], "mark": {"type": "line", "color": "#1414c0", "strokeWidth": 2.7, "interpolate": "monotone", "clip": true},
       "encoding": {"x": {"field": "x", "type": "quantitative", "scale": {"domain": [0.2, 0.5], "nice": false, "zero": false}, "axis": {"orient": "top", "values": [0.2, 0.3, 0.4, 0.5], "labels": false, "title": null}},
                    "y": {"field": "y", "type": "quantitative", "scale": {"domain": [-0.76, 2.42], "nice": false, "zero": false}, "axis": {"orient": "right", "values": [0, 1, 2], "labels": false, "title": null}}}},
      {"data": {"name": "band"}, "transform": [{"filter": "datum.p == '21'"}], "mark": {"type": "line", "color": "#2a2ab0", "strokeWidth": 1, "strokeDash": [7, 4], "interpolate": "monotone", "clip": true},
       "encoding": {"x": {"field": "x", "type": "quantitative", "axis": null}, "y": {"field": "y", "type": "quantitative", "axis": null}, "detail": {"field": "b"}}}
    ], "resolve": {"axis": {"x": "independent", "y": "independent"}}},
    {"width": 213, "height": 100, "layer": [
      {"data": {"name": "truth"}, "mark": {"type": "line", "color": "#000000", "strokeWidth": 2, "clip": true},
       "encoding": {"x": {"field": "x", "type": "quantitative", "scale": {"domain": [0.2, 0.5], "nice": false, "zero": false}, "axis": {"orient": "bottom", "values": [0.2, 0.3, 0.4, 0.5], "format": "~g", "title": null}},
                    "y": {"field": "y", "type": "quantitative", "scale": {"domain": [-0.08, 1.63], "nice": false, "zero": false}, "axis": {"orient": "left", "values": [0.5, 1, 1.5], "format": "~g", "title": null}}}},
      {"data": {"name": "est"}, "transform": [{"filter": "datum.p == '22'"}], "mark": {"type": "line", "color": "#1414c0", "strokeWidth": 2.7, "interpolate": "monotone", "clip": true},
       "encoding": {"x": {"field": "x", "type": "quantitative", "scale": {"domain": [0.2, 0.5], "nice": false, "zero": false}, "axis": {"orient": "top", "values": [0.2, 0.3, 0.4, 0.5], "labels": false, "title": null}},
                    "y": {"field": "y", "type": "quantitative", "scale": {"domain": [-0.08, 1.63], "nice": false, "zero": false}, "axis": {"orient": "right", "values": [0.5, 1, 1.5], "labels": false, "title": null}}}},
      {"data": {"name": "band"}, "transform": [{"filter": "datum.p == '22'"}], "mark": {"type": "line", "color": "#2a2ab0", "strokeWidth": 1, "strokeDash": [7, 4], "interpolate": "monotone", "clip": true},
       "encoding": {"x": {"field": "x", "type": "quantitative", "axis": null}, "y": {"field": "y", "type": "quantitative", "axis": null}, "detail": {"field": "b"}}}
    ], "resolve": {"axis": {"x": "independent", "y": "independent"}}},
    {"width": 213, "height": 100, "layer": [
      {"data": {"name": "truth"}, "mark": {"type": "line", "color": "#000000", "strokeWidth": 2, "clip": true},
       "encoding": {"x": {"field": "x", "type": "quantitative", "scale": {"domain": [0.2, 0.5], "nice": false, "zero": false}, "axis": {"orient": "bottom", "values": [0.2, 0.3, 0.4, 0.5], "format": "~g", "title": null}},
                    "y": {"field": "y", "type": "quantitative", "scale": {"domain": [-0.31, 1.89], "nice": false, "zero": false}, "axis": {"orient": "left", "values": [0, 0.5, 1, 1.5], "format": "~g", "title": null}}}},
      {"data": {"name": "est"}, "transform": [{"filter": "datum.p == '23'"}], "mark": {"type": "line", "color": "#1414c0", "strokeWidth": 2.7, "interpolate": "monotone", "clip": true},
       "encoding": {"x": {"field": "x", "type": "quantitative", "scale": {"domain": [0.2, 0.5], "nice": false, "zero": false}, "axis": {"orient": "top", "values": [0.2, 0.3, 0.4, 0.5], "labels": false, "title": null}},
                    "y": {"field": "y", "type": "quantitative", "scale": {"domain": [-0.31, 1.89], "nice": false, "zero": false}, "axis": {"orient": "right", "values": [0, 0.5, 1, 1.5], "labels": false, "title": null}}}},
      {"data": {"name": "band"}, "transform": [{"filter": "datum.p == '23'"}], "mark": {"type": "line", "color": "#2a2ab0", "strokeWidth": 1, "strokeDash": [7, 4], "interpolate": "monotone", "clip": true},
       "encoding": {"x": {"field": "x", "type": "quantitative", "axis": null}, "y": {"field": "y", "type": "quantitative", "axis": null}, "detail": {"field": "b"}}}
    ], "resolve": {"axis": {"x": "independent", "y": "independent"}}},
    {"width": 213, "height": 100, "layer": [
      {"data": {"name": "truth"}, "mark": {"type": "line", "color": "#000000", "strokeWidth": 2, "clip": true},
       "encoding": {"x": {"field": "x", "type": "quantitative", "scale": {"domain": [0.2, 0.5], "nice": false, "zero": false}, "axis": {"orient": "bottom", "values": [0.2, 0.3, 0.4, 0.5], "format": "~g", "title": null}},
                    "y": {"field": "y", "type": "quantitative", "scale": {"domain": [-0.1, 1.82], "nice": false, "zero": false}, "axis": {"orient": "left", "values": [0, 0.5, 1, 1.5], "format": "~g", "title": null}}}},
      {"data": {"name": "est"}, "transform": [{"filter": "datum.p == '24'"}], "mark": {"type": "line", "color": "#1414c0", "strokeWidth": 2.7, "interpolate": "monotone", "clip": true},
       "encoding": {"x": {"field": "x", "type": "quantitative", "scale": {"domain": [0.2, 0.5], "nice": false, "zero": false}, "axis": {"orient": "top", "values": [0.2, 0.3, 0.4, 0.5], "labels": false, "title": null}},
                    "y": {"field": "y", "type": "quantitative", "scale": {"domain": [-0.1, 1.82], "nice": false, "zero": false}, "axis": {"orient": "right", "values": [0, 0.5, 1, 1.5], "labels": false, "title": null}}}},
      {"data": {"name": "band"}, "transform": [{"filter": "datum.p == '24'"}], "mark": {"type": "line", "color": "#2a2ab0", "strokeWidth": 1, "strokeDash": [7, 4], "interpolate": "monotone", "clip": true},
       "encoding": {"x": {"field": "x", "type": "quantitative", "axis": null}, "y": {"field": "y", "type": "quantitative", "axis": null}, "detail": {"field": "b"}}}
    ], "resolve": {"axis": {"x": "independent", "y": "independent"}}},
    {"width": 213, "height": 100, "layer": [
      {"data": {"name": "truth"}, "mark": {"type": "line", "color": "#000000", "strokeWidth": 2, "clip": true},
       "encoding": {"x": {"field": "x", "type": "quantitative", "scale": {"domain": [0.2, 0.5], "nice": false, "zero": false}, "axis": {"orient": "bottom", "values": [0.2, 0.3, 0.4, 0.5], "format": "~g", "title": null}},
                    "y": {"field": "y", "type": "quantitative", "scale": {"domain": [-0.29, 1.85], "nice": false, "zero": false}, "axis": {"orient": "left", "values": [0, 0.5, 1, 1.5], "format": "~g", "title": null}}}},
      {"data": {"name": "est"}, "transform": [{"filter": "datum.p == '31'"}], "mark": {"type": "line", "color": "#1414c0", "strokeWidth": 2.7, "interpolate": "monotone", "clip": true},
       "encoding": {"x": {"field": "x", "type": "quantitative", "scale": {"domain": [0.2, 0.5], "nice": false, "zero": false}, "axis": {"orient": "top", "values": [0.2, 0.3, 0.4, 0.5], "labels": false, "title": null}},
                    "y": {"field": "y", "type": "quantitative", "scale": {"domain": [-0.29, 1.85], "nice": false, "zero": false}, "axis": {"orient": "right", "values": [0, 0.5, 1, 1.5], "labels": false, "title": null}}}},
      {"data": {"name": "band"}, "transform": [{"filter": "datum.p == '31'"}], "mark": {"type": "line", "color": "#2a2ab0", "strokeWidth": 1, "strokeDash": [7, 4], "interpolate": "monotone", "clip": true},
       "encoding": {"x": {"field": "x", "type": "quantitative", "axis": null}, "y": {"field": "y", "type": "quantitative", "axis": null}, "detail": {"field": "b"}}}
    ], "resolve": {"axis": {"x": "independent", "y": "independent"}}},
    {"width": 213, "height": 100, "layer": [
      {"data": {"name": "truth"}, "mark": {"type": "line", "color": "#000000", "strokeWidth": 2, "clip": true},
       "encoding": {"x": {"field": "x", "type": "quantitative", "scale": {"domain": [0.2, 0.5], "nice": false, "zero": false}, "axis": {"orient": "bottom", "values": [0.2, 0.3, 0.4, 0.5], "format": "~g", "title": null}},
                    "y": {"field": "y", "type": "quantitative", "scale": {"domain": [0.45, 1.52], "nice": false, "zero": false}, "axis": {"orient": "left", "values": [0.5, 1, 1.5], "format": "~g", "title": null}}}},
      {"data": {"name": "est"}, "transform": [{"filter": "datum.p == '32'"}], "mark": {"type": "line", "color": "#1414c0", "strokeWidth": 2.7, "interpolate": "monotone", "clip": true},
       "encoding": {"x": {"field": "x", "type": "quantitative", "scale": {"domain": [0.2, 0.5], "nice": false, "zero": false}, "axis": {"orient": "top", "values": [0.2, 0.3, 0.4, 0.5], "labels": false, "title": null}},
                    "y": {"field": "y", "type": "quantitative", "scale": {"domain": [0.45, 1.52], "nice": false, "zero": false}, "axis": {"orient": "right", "values": [0.5, 1, 1.5], "labels": false, "title": null}}}},
      {"data": {"name": "band"}, "transform": [{"filter": "datum.p == '32'"}], "mark": {"type": "line", "color": "#2a2ab0", "strokeWidth": 1, "strokeDash": [7, 4], "interpolate": "monotone", "clip": true},
       "encoding": {"x": {"field": "x", "type": "quantitative", "axis": null}, "y": {"field": "y", "type": "quantitative", "axis": null}, "detail": {"field": "b"}}}
    ], "resolve": {"axis": {"x": "independent", "y": "independent"}}},
    {"width": 213, "height": 100, "layer": [
      {"data": {"name": "truth"}, "mark": {"type": "line", "color": "#000000", "strokeWidth": 2, "clip": true},
       "encoding": {"x": {"field": "x", "type": "quantitative", "scale": {"domain": [0.2, 0.5], "nice": false, "zero": false}, "axis": {"orient": "bottom", "values": [0.2, 0.3, 0.4, 0.5], "format": "~g", "title": null}},
                    "y": {"field": "y", "type": "quantitative", "scale": {"domain": [0.25, 1.7], "nice": false, "zero": false}, "axis": {"orient": "left", "values": [0.5, 1, 1.5], "format": "~g", "title": null}}}},
      {"data": {"name": "est"}, "transform": [{"filter": "datum.p == '33'"}], "mark": {"type": "line", "color": "#1414c0", "strokeWidth": 2.7, "interpolate": "monotone", "clip": true},
       "encoding": {"x": {"field": "x", "type": "quantitative", "scale": {"domain": [0.2, 0.5], "nice": false, "zero": false}, "axis": {"orient": "top", "values": [0.2, 0.3, 0.4, 0.5], "labels": false, "title": null}},
                    "y": {"field": "y", "type": "quantitative", "scale": {"domain": [0.25, 1.7], "nice": false, "zero": false}, "axis": {"orient": "right", "values": [0.5, 1, 1.5], "labels": false, "title": null}}}},
      {"data": {"name": "band"}, "transform": [{"filter": "datum.p == '33'"}], "mark": {"type": "line", "color": "#2a2ab0", "strokeWidth": 1, "strokeDash": [7, 4], "interpolate": "monotone", "clip": true},
       "encoding": {"x": {"field": "x", "type": "quantitative", "axis": null}, "y": {"field": "y", "type": "quantitative", "axis": null}, "detail": {"field": "b"}}}
    ], "resolve": {"axis": {"x": "independent", "y": "independent"}}},
    {"width": 213, "height": 100, "layer": [
      {"data": {"name": "truth"}, "mark": {"type": "line", "color": "#000000", "strokeWidth": 2, "clip": true},
       "encoding": {"x": {"field": "x", "type": "quantitative", "scale": {"domain": [0.2, 0.5], "nice": false, "zero": false}, "axis": {"orient": "bottom", "values": [0.2, 0.3, 0.4, 0.5], "format": "~g", "title": null}},
                    "y": {"field": "y", "type": "quantitative", "scale": {"domain": [0.265, 1.69], "nice": false, "zero": false}, "axis": {"orient": "left", "values": [0.5, 1, 1.5], "format": "~g", "title": null}}}},
      {"data": {"name": "est"}, "transform": [{"filter": "datum.p == '34'"}], "mark": {"type": "line", "color": "#1414c0", "strokeWidth": 2.7, "interpolate": "monotone", "clip": true},
       "encoding": {"x": {"field": "x", "type": "quantitative", "scale": {"domain": [0.2, 0.5], "nice": false, "zero": false}, "axis": {"orient": "top", "values": [0.2, 0.3, 0.4, 0.5], "labels": false, "title": null}},
                    "y": {"field": "y", "type": "quantitative", "scale": {"domain": [0.265, 1.69], "nice": false, "zero": false}, "axis": {"orient": "right", "values": [0.5, 1, 1.5], "labels": false, "title": null}}}},
      {"data": {"name": "band"}, "transform": [{"filter": "datum.p == '34'"}], "mark": {"type": "line", "color": "#2a2ab0", "strokeWidth": 1, "strokeDash": [7, 4], "interpolate": "monotone", "clip": true},
       "encoding": {"x": {"field": "x", "type": "quantitative", "axis": null}, "y": {"field": "y", "type": "quantitative", "axis": null}, "detail": {"field": "b"}}}
    ], "resolve": {"axis": {"x": "independent", "y": "independent"}}},
    {"width": 213, "height": 100, "layer": [
      {"data": {"name": "truth"}, "mark": {"type": "line", "color": "#000000", "strokeWidth": 2, "clip": true},
       "encoding": {"x": {"field": "x", "type": "quantitative", "scale": {"domain": [0.2, 0.5], "nice": false, "zero": false}, "axis": {"orient": "bottom", "values": [0.2, 0.3, 0.4, 0.5], "format": "~g", "title": null}},
                    "y": {"field": "y", "type": "quantitative", "scale": {"domain": [0.1, 1.52], "nice": false, "zero": false}, "axis": {"orient": "left", "values": [0.5, 1, 1.5], "format": "~g", "title": null}}}},
      {"data": {"name": "est"}, "transform": [{"filter": "datum.p == '41'"}], "mark": {"type": "line", "color": "#1414c0", "strokeWidth": 2.7, "interpolate": "monotone", "clip": true},
       "encoding": {"x": {"field": "x", "type": "quantitative", "scale": {"domain": [0.2, 0.5], "nice": false, "zero": false}, "axis": {"orient": "top", "values": [0.2, 0.3, 0.4, 0.5], "labels": false, "title": null}},
                    "y": {"field": "y", "type": "quantitative", "scale": {"domain": [0.1, 1.52], "nice": false, "zero": false}, "axis": {"orient": "right", "values": [0.5, 1, 1.5], "labels": false, "title": null}}}},
      {"data": {"name": "band"}, "transform": [{"filter": "datum.p == '41'"}], "mark": {"type": "line", "color": "#2a2ab0", "strokeWidth": 1, "strokeDash": [7, 4], "interpolate": "monotone", "clip": true},
       "encoding": {"x": {"field": "x", "type": "quantitative", "axis": null}, "y": {"field": "y", "type": "quantitative", "axis": null}, "detail": {"field": "b"}}}
    ], "resolve": {"axis": {"x": "independent", "y": "independent"}}},
    {"width": 213, "height": 100, "layer": [
      {"data": {"name": "truth"}, "mark": {"type": "line", "color": "#000000", "strokeWidth": 2, "clip": true},
       "encoding": {"x": {"field": "x", "type": "quantitative", "scale": {"domain": [0.2, 0.5], "nice": false, "zero": false}, "axis": {"orient": "bottom", "values": [0.2, 0.3, 0.4, 0.5], "format": "~g", "title": null}},
                    "y": {"field": "y", "type": "quantitative", "scale": {"domain": [0.5, 1.5], "nice": false, "zero": false}, "axis": {"orient": "left", "values": [0.5, 1, 1.5], "format": "~g", "title": null}}}},
      {"data": {"name": "est"}, "transform": [{"filter": "datum.p == '42'"}], "mark": {"type": "line", "color": "#1414c0", "strokeWidth": 2.7, "interpolate": "monotone", "clip": true},
       "encoding": {"x": {"field": "x", "type": "quantitative", "scale": {"domain": [0.2, 0.5], "nice": false, "zero": false}, "axis": {"orient": "top", "values": [0.2, 0.3, 0.4, 0.5], "labels": false, "title": null}},
                    "y": {"field": "y", "type": "quantitative", "scale": {"domain": [0.5, 1.5], "nice": false, "zero": false}, "axis": {"orient": "right", "values": [0.5, 1, 1.5], "labels": false, "title": null}}}},
      {"data": {"name": "band"}, "transform": [{"filter": "datum.p == '42'"}], "mark": {"type": "line", "color": "#2a2ab0", "strokeWidth": 1, "strokeDash": [7, 4], "interpolate": "monotone", "clip": true},
       "encoding": {"x": {"field": "x", "type": "quantitative", "axis": null}, "y": {"field": "y", "type": "quantitative", "axis": null}, "detail": {"field": "b"}}}
    ], "resolve": {"axis": {"x": "independent", "y": "independent"}}},
    {"width": 213, "height": 100, "layer": [
      {"data": {"name": "truth"}, "mark": {"type": "line", "color": "#000000", "strokeWidth": 2, "clip": true},
       "encoding": {"x": {"field": "x", "type": "quantitative", "scale": {"domain": [0.2, 0.5], "nice": false, "zero": false}, "axis": {"orient": "bottom", "values": [0.2, 0.3, 0.4, 0.5], "format": "~g", "title": null}},
                    "y": {"field": "y", "type": "quantitative", "scale": {"domain": [0.28, 1.58], "nice": false, "zero": false}, "axis": {"orient": "left", "values": [0.5, 1, 1.5], "format": "~g", "title": null}}}},
      {"data": {"name": "est"}, "transform": [{"filter": "datum.p == '43'"}], "mark": {"type": "line", "color": "#1414c0", "strokeWidth": 2.7, "interpolate": "monotone", "clip": true},
       "encoding": {"x": {"field": "x", "type": "quantitative", "scale": {"domain": [0.2, 0.5], "nice": false, "zero": false}, "axis": {"orient": "top", "values": [0.2, 0.3, 0.4, 0.5], "labels": false, "title": null}},
                    "y": {"field": "y", "type": "quantitative", "scale": {"domain": [0.28, 1.58], "nice": false, "zero": false}, "axis": {"orient": "right", "values": [0.5, 1, 1.5], "labels": false, "title": null}}}},
      {"data": {"name": "band"}, "transform": [{"filter": "datum.p == '43'"}], "mark": {"type": "line", "color": "#2a2ab0", "strokeWidth": 1, "strokeDash": [7, 4], "interpolate": "monotone", "clip": true},
       "encoding": {"x": {"field": "x", "type": "quantitative", "axis": null}, "y": {"field": "y", "type": "quantitative", "axis": null}, "detail": {"field": "b"}}}
    ], "resolve": {"axis": {"x": "independent", "y": "independent"}}},
    {"width": 213, "height": 100, "layer": [
      {"data": {"name": "truth"}, "mark": {"type": "line", "color": "#000000", "strokeWidth": 2, "clip": true},
       "encoding": {"x": {"field": "x", "type": "quantitative", "scale": {"domain": [0.2, 0.5], "nice": false, "zero": false}, "axis": {"orient": "bottom", "values": [0.2, 0.3, 0.4, 0.5], "format": "~g", "title": null}},
                    "y": {"field": "y", "type": "quantitative", "scale": {"domain": [0.38, 1.52], "nice": false, "zero": false}, "axis": {"orient": "left", "values": [0.5, 1, 1.5], "format": "~g", "title": null}}}},
      {"data": {"name": "est"}, "transform": [{"filter": "datum.p == '44'"}], "mark": {"type": "line", "color": "#1414c0", "strokeWidth": 2.7, "interpolate": "monotone", "clip": true},
       "encoding": {"x": {"field": "x", "type": "quantitative", "scale": {"domain": [0.2, 0.5], "nice": false, "zero": false}, "axis": {"orient": "top", "values": [0.2, 0.3, 0.4, 0.5], "labels": false, "title": null}},
                    "y": {"field": "y", "type": "quantitative", "scale": {"domain": [0.38, 1.52], "nice": false, "zero": false}, "axis": {"orient": "right", "values": [0.5, 1, 1.5], "labels": false, "title": null}}}},
      {"data": {"name": "band"}, "transform": [{"filter": "datum.p == '44'"}], "mark": {"type": "line", "color": "#2a2ab0", "strokeWidth": 1, "strokeDash": [7, 4], "interpolate": "monotone", "clip": true},
       "encoding": {"x": {"field": "x", "type": "quantitative", "axis": null}, "y": {"field": "y", "type": "quantitative", "axis": null}, "detail": {"field": "b"}}}
    ], "resolve": {"axis": {"x": "independent", "y": "independent"}}}
  ],
  "config": {
    "view": {"stroke": null},
    "axis": {"grid": false, "labelFont": "Liberation Sans", "labelFontSize": 12, "labelColor": "#262626", "domainColor": "#262626", "domainWidth": 1, "tickColor": "#262626", "tickWidth": 1, "tickSize": -3, "labelFlush": false, "labelOverlap": false},
    "axisBottom": {"labelPadding": 12},
    "axisLeft": {"labelPadding": 9},
    "title": {"font": "Liberation Sans", "fontSize": 14, "fontWeight": "bold", "color": "#000000", "anchor": "middle", "frame": "group", "baseline": "alphabetic", "offset": 0}
  }
}
